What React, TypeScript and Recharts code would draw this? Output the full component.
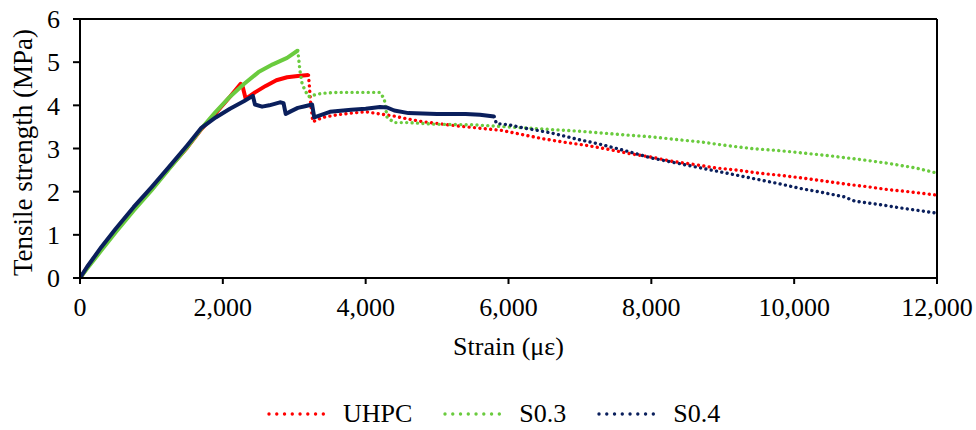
import { Line, LineChart, ReferenceLine, XAxis, YAxis } from 'recharts';

const font = 'Liberation Serif, DejaVu Serif, serif';

const strainTicks = [0, 2000, 4000, 6000, 8000, 10000, 12000];
const stressTicks = [0, 1, 2, 3, 4, 5, 6];

// UHPC
const uhpcStrain = [0, 100, 250, 500, 750, 1000, 1250, 1500, 1700, 1900, 2100, 2250, 2280, 2320, 2450, 2600, 2750, 2900, 3050, 3200, 3230, 3260, 3400, 3600, 3800, 4000, 4200, 4400, 4600, 4800, 5000, 5300, 5600, 5900, 6200, 6500, 6800, 7100, 7400, 7700, 8000, 8300, 8600, 8900, 9200, 9500, 9800, 10100, 10400, 10700, 11000, 11300, 11600, 12000];
const uhpcStress = [0, 0.24, 0.58, 1.1, 1.6, 2.05, 2.55, 3.02, 3.45, 3.82, 4.2, 4.5, 4.42, 4.15, 4.3, 4.45, 4.58, 4.65, 4.68, 4.7, 4.05, 3.62, 3.72, 3.78, 3.82, 3.85, 3.8, 3.75, 3.68, 3.62, 3.58, 3.52, 3.47, 3.42, 3.32, 3.22, 3.14, 3.07, 2.98, 2.88, 2.8, 2.7, 2.63, 2.55, 2.5, 2.43, 2.38, 2.32, 2.25, 2.18, 2.12, 2.05, 2.0, 1.92];

// S0.3
const s03Strain = [0, 100, 300, 500, 750, 1000, 1250, 1500, 1700, 1900, 2100, 2300, 2500, 2700, 2900, 3050, 3080, 3110, 3150, 3200, 3300, 3400, 3600, 3800, 4000, 4200, 4260, 4300, 4400, 4600, 5000, 5500, 6000, 6500, 7000, 7300, 7600, 8000, 8400, 8700, 9000, 9400, 9800, 10100, 10500, 10900, 11300, 11700, 12000];
const s03Stress = [0, 0.22, 0.64, 1.06, 1.56, 2.03, 2.53, 3.03, 3.46, 3.85, 4.2, 4.5, 4.77, 4.95, 5.1, 5.27, 4.8, 4.5, 4.35, 4.2, 4.25, 4.28, 4.3, 4.3, 4.3, 4.3, 4.15, 3.72, 3.6, 3.6, 3.56, 3.55, 3.5, 3.45, 3.4, 3.36, 3.32, 3.27, 3.2, 3.15, 3.08, 3.0, 2.95, 2.9, 2.83, 2.75, 2.66, 2.55, 2.43];

// S0.4
const s04Strain = [0, 100, 300, 500, 750, 1000, 1250, 1500, 1700, 1900, 2100, 2300, 2420, 2450, 2550, 2650, 2800, 2850, 2880, 2950, 3050, 3150, 3250, 3280, 3350, 3500, 3800, 4000, 4200, 4300, 4400, 4600, 5000, 5400, 5600, 5800, 5830, 6000, 6200, 6400, 6600, 6800, 7000, 7200, 7400, 7700, 8000, 8300, 8600, 8900, 9200, 9500, 9800, 10100, 10400, 10700, 10850, 11200, 11500, 11800, 12000];
const s04Stress = [0, 0.26, 0.72, 1.14, 1.64, 2.1, 2.58, 3.07, 3.48, 3.72, 3.92, 4.1, 4.22, 4.02, 3.97, 4.0, 4.07, 4.05, 3.8, 3.86, 3.94, 3.98, 4.02, 3.72, 3.76, 3.85, 3.9, 3.92, 3.96, 3.95, 3.88, 3.82, 3.8, 3.8, 3.78, 3.74, 3.58, 3.55, 3.48, 3.42, 3.36, 3.28, 3.2, 3.13, 3.05, 2.92, 2.78, 2.68, 2.58, 2.48, 2.38, 2.28, 2.18, 2.07, 1.98, 1.88, 1.78, 1.7, 1.62, 1.55, 1.5];

const seriesNames = ['UHPC', 'S0.3', 'S0.4'];
const seriesColors = ['#ff0000', '#6acb3e', '#0a1f5c'];
// where the logged points get sparse and the line turns into dots
const solidUntil = [3200, 3050, 5800];

const toPoints = (strain: number[], stress: number[]) => strain.map((s, i) => ({ strain: s, stress: stress[i] }));

const series = [
  toPoints(uhpcStrain, uhpcStress),
  toPoints(s03Strain, s03Stress),
  toPoints(s04Strain, s04Stress)
];

const tickStyle = { fill: '#000', fontSize: 26, fontFamily: font };

function YTitle({ viewBox }: any) {
  const cy = viewBox.y + viewBox.height / 2 + 4;
  return (
    <text x={23} y={cy} transform={`rotate(-90, 23, ${cy})`} textAnchor="middle" dominantBaseline="central"
      fill="#000" fontSize={27} fontFamily={font}>
      Tensile strength (MPa)
    </text>
  );
}

function XTitle({ viewBox }: any) {
  return (
    <text x={viewBox.x + viewBox.width / 2} y={355} textAnchor="middle" fill="#000" fontSize={26} fontFamily={font}>
      Strain (με)
    </text>
  );
}

function LegendRow() {
  return (
    <div style={{ position: 'absolute', left: 267, top: 401, display: 'flex', alignItems: 'center', fontFamily: font, fontSize: 26, lineHeight: '26px', color: '#000' }}>
      {seriesNames.map((name, i) => (
        <div key={name} style={{ display: 'flex', alignItems: 'center', marginRight: i < 2 ? 31 : 0 }}>
          <svg width={66} height={10} style={{ marginRight: 10 }}>
            <line x1={2} y1={5} x2={64} y2={5} stroke={seriesColors[i]} strokeWidth={3.4} strokeLinecap="round" strokeDasharray="0.01 7.75" />
          </svg>
          <span>{name}</span>
        </div>
      ))}
    </div>
  );
}

export default function App() {
  return (
    <div style={{ position: 'absolute', left: 0, top: 0, width: 976, height: 430, background: '#fff' }}>
      <LineChart width={976} height={430} margin={{ top: 19, right: 39, left: 0, bottom: 0 }}>
        <XAxis
          dataKey="strain"
          type="number"
          domain={[0, 12000]}
          ticks={strainTicks}
          tickFormatter={(v) => v.toLocaleString('en-US')}
          height={152}
          tickSize={6}
          tickMargin={14}
          tick={tickStyle}
          axisLine={{ stroke: '#000', strokeWidth: 2 }}
          tickLine={{ stroke: '#000', strokeWidth: 2 }}
          label={<XTitle />}
          allowDataOverflow
        />
        <YAxis
          type="number"
          domain={[0, 6]}
          ticks={stressTicks}
          width={80}
          tickSize={7}
          tickMargin={13}
          tick={tickStyle}
          axisLine={{ stroke: '#000', strokeWidth: 2 }}
          tickLine={{ stroke: '#000', strokeWidth: 2 }}
          label={<YTitle />}
        />
        <ReferenceLine y={6} stroke="#000" strokeWidth={2} />
        <ReferenceLine x={12000} stroke="#000" strokeWidth={2} />
        {series.map((points, i) => [
          <Line
            key={`${seriesNames[i]}-solid`}
            data={points.filter((p) => p.strain <= solidUntil[i])}
            dataKey="stress"
            stroke={seriesColors[i]}
            strokeWidth={4}
            strokeLinejoin="round"
            dot={false}
            legendType="none"
            isAnimationActive={false}
          />,
          <Line
            key={`${seriesNames[i]}-dots`}
            name={seriesNames[i]}
            data={points.filter((p) => p.strain >= solidUntil[i])}
            dataKey="stress"
            stroke={seriesColors[i]}
            strokeWidth={3.4}
            strokeLinecap="round"
            strokeDasharray="0.01 5.4"
            dot={false}
            isAnimationActive={false}
          />
        ])}
      </LineChart>
      <LegendRow />
    </div>
  );
}
